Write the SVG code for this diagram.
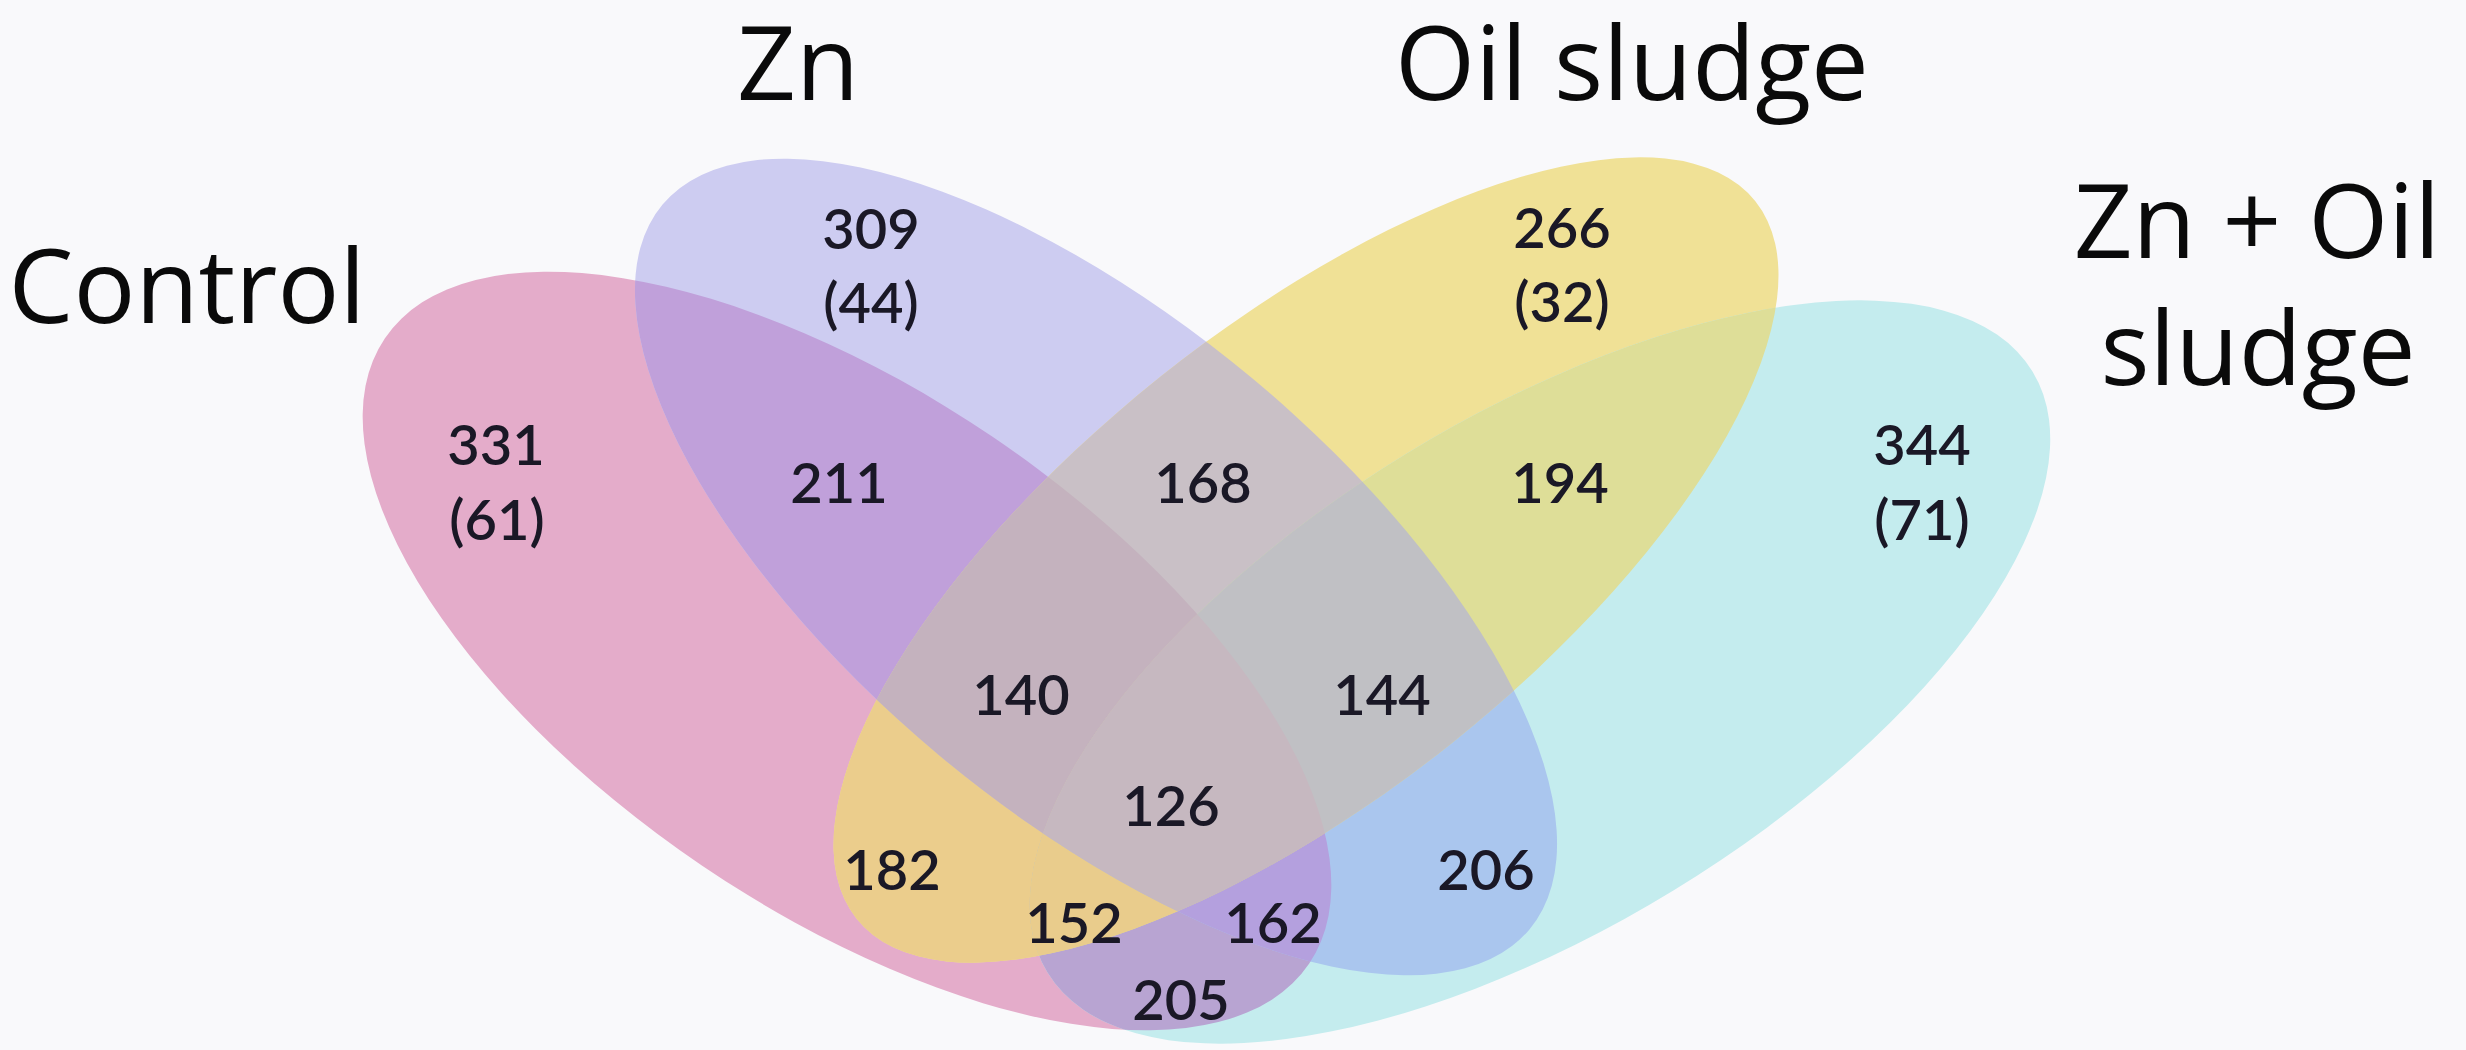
<svg xmlns="http://www.w3.org/2000/svg" xmlns:xlink="http://www.w3.org/1999/xlink" width="2466" height="1050" viewBox="0 0 2466 1050">
  <style>
    .title { font-family: "Open Sans", "Noto Sans", "Liberation Sans", sans-serif; font-size: 103px; fill: #0a0a0a; text-anchor: middle; }
    .num { font-family: Lato, "Noto Sans", "Liberation Sans", sans-serif; font-size: 56px; font-weight: 600; fill: #1a1826; text-anchor: middle; }
  </style>
  <defs>
    <ellipse id="sA" cx="847" cy="651" rx="558" ry="259" transform="rotate(34.1 847 651)"/>
    <ellipse id="sB" cx="1096" cy="567" rx="565" ry="245" transform="rotate(39.9 1096 567)"/>
    <ellipse id="sC" cx="1306" cy="560" rx="575" ry="234" transform="rotate(-38.6 1306 560)"/>
    <ellipse id="sD" cx="1540" cy="672" rx="577" ry="256" transform="rotate(-31.4 1540 672)"/>
    <clipPath id="cA"><use href="#sA"/></clipPath>
    <clipPath id="cB"><use href="#sB"/></clipPath>
    <clipPath id="cC"><use href="#sC"/></clipPath>
    <clipPath id="cD"><use href="#sD"/></clipPath>
  </defs>
  <rect width="2466" height="1050" fill="#F9F9FB"/>

  <g id="set-control"><use href="#sA" fill="#E4ACCA"/></g>
  <g id="set-zn"><use href="#sB" fill="#CDCCF1"/></g>
  <g id="set-oil-sludge"><use href="#sC" fill="#F0E196"/></g>
  <g id="set-zn-oil-sludge"><use href="#sD" fill="#C4ECEE"/></g>

  <g id="overlaps">
    <g clip-path="url(#cA)"><use href="#sB" fill="#C0A0DA"/></g>
    <g clip-path="url(#cA)"><use href="#sC" fill="#EBCD8C"/></g>
    <g clip-path="url(#cA)"><use href="#sD" fill="#B8A4D2"/></g>
    <g clip-path="url(#cB)"><use href="#sC" fill="#C9C0C6"/></g>
    <g clip-path="url(#cB)"><use href="#sD" fill="#AAC6EE"/></g>
    <g clip-path="url(#cC)"><use href="#sD" fill="#DEDE98"/></g>
    <g clip-path="url(#cA)"><g clip-path="url(#cB)"><use href="#sC" fill="#C4B2BE"/></g></g>
    <g clip-path="url(#cA)"><g clip-path="url(#cB)"><use href="#sD" fill="#B4A0DE"/></g></g>
    <g clip-path="url(#cA)"><g clip-path="url(#cC)"><use href="#sD" fill="#E9CC8C"/></g></g>
    <g clip-path="url(#cB)"><g clip-path="url(#cC)"><use href="#sD" fill="#C0C0C4"/></g></g>
    <g clip-path="url(#cA)"><g clip-path="url(#cB)"><g clip-path="url(#cC)"><use href="#sD" fill="#C6B8C0"/></g></g></g>
  </g>

  <g id="titles">
    <text class="title" x="187" y="323">Control</text>
    <text class="title" x="798" y="100">Zn</text>
    <text class="title" x="1632" y="100">Oil sludge</text>
    <text class="title" x="2257" y="258">Zn + Oil</text>
    <text class="title" x="2258" y="385">sludge</text>
  </g>

  <g id="counts">
    <text class="num" x="871" y="249">309</text>
    <text class="num" x="871" y="323">(44)</text>
    <text class="num" x="496" y="465">331</text>
    <text class="num" x="497" y="540">(61)</text>
    <text class="num" x="1562" y="248">266</text>
    <text class="num" x="1562" y="322">(32)</text>
    <text class="num" x="1922" y="465">344</text>
    <text class="num" x="1922" y="540">(71)</text>
    <text class="num" x="839" y="503">211</text>
    <text class="num" x="1203" y="503">168</text>
    <text class="num" x="1560" y="503">194</text>
    <text class="num" x="1021" y="715">140</text>
    <text class="num" x="1382" y="715">144</text>
    <text class="num" x="1171" y="826">126</text>
    <text class="num" x="892" y="890">182</text>
    <text class="num" x="1074" y="943">152</text>
    <text class="num" x="1273" y="943">162</text>
    <text class="num" x="1486" y="890">206</text>
    <text class="num" x="1181" y="1020">205</text>
  </g>
</svg>
